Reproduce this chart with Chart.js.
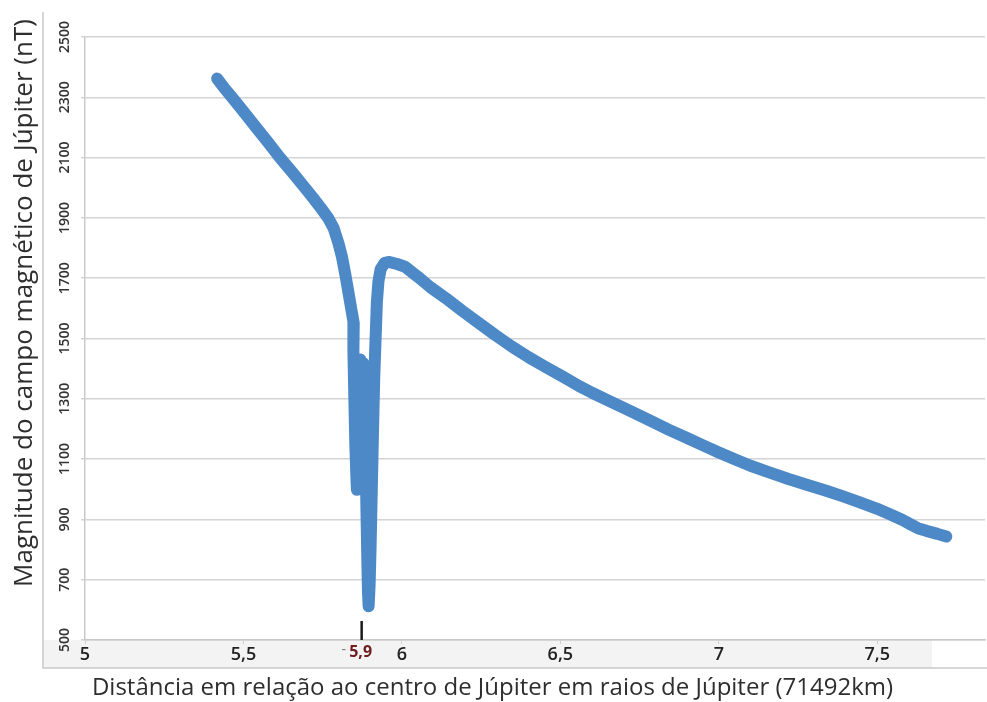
<!DOCTYPE html>
<html>
<head>
<meta charset="utf-8">
<script src="https://cdn.jsdelivr.net/npm/chart.js@4.4.1/dist/chart.umd.min.js"></script>
<style>
  body { margin: 0; background: #ffffff; }
  #myChart { display: block; }
</style>
</head>
<body>
<canvas id="myChart" width="987" height="702"></canvas>
<script>
// distance from Jupiter centre (Rj) and field magnitude (nT)
const distRj = [
  5.417, 5.44, 5.464, 5.50, 5.54, 5.578, 5.615, 5.655, 5.69, 5.72,
  5.742, 5.767, 5.785, 5.80, 5.811, 5.821, 5.830, 5.839, 5.848, 5.847,
  5.849, 5.851, 5.853, 5.856, 5.858, 5.861, 5.863, 5.866, 5.869, 5.872,
  5.874, 5.876, 5.878, 5.882, 5.885, 5.887, 5.889, 5.891, 5.893, 5.895,
  5.898, 5.901, 5.904, 5.907, 5.910, 5.913, 5.917, 5.921, 5.926, 5.933,
  5.945, 5.958, 5.985, 6.01, 6.026, 6.05, 6.09, 6.138, 6.19, 6.242,
  6.295, 6.346, 6.40, 6.454, 6.51, 6.558, 6.60, 6.65, 6.70, 6.738,
  6.79, 6.843, 6.90, 6.947, 7.00, 7.054, 7.10, 7.159, 7.22, 7.28,
  7.339, 7.39, 7.443, 7.50, 7.547, 7.58, 7.601, 7.63, 7.655, 7.69,
  7.718
];
const fieldNt = [
  2362, 2330, 2300, 2253, 2200, 2150, 2100, 2050, 2005, 1966,
  1936, 1900, 1865, 1815, 1770, 1715, 1661, 1605, 1551, 1460,
  1350, 1250, 1150, 1050, 998, 1100, 1250, 1350, 1430, 1380,
  1250, 1350, 1419, 1330, 1150, 1000, 880, 760, 660, 612,
  680, 800, 950, 1100, 1250, 1380, 1500, 1620, 1690, 1730,
  1750, 1754, 1747, 1738, 1725, 1705, 1670, 1634, 1592, 1552,
  1511, 1474, 1438, 1405, 1372, 1343, 1320, 1295, 1270, 1251,
  1224, 1197, 1170, 1147, 1122, 1098, 1078, 1056, 1034, 1014,
  995, 977, 957, 935, 914, 898, 886, 870, 862, 852,
  843
];

const xTickValues = [5, 5.5, 6, 6.5, 7, 7.5];
const markerX = 5.873;
const markerText = '5,9';

const yTitle = 'Magnitude do campo magnético de Júpiter (nT)';
const xTitle = 'Distância em relação ao centro de Júpiter em raios de Júpiter (71492km)';

const points = distRj.map((d, i) => ({ x: d, y: fieldNt[i] }));

// band under the x labels, outer frame, rotated y labels, y title, ~5,9 mark
const decorations = {
  id: 'decorations',
  beforeDraw: (chart) => {
    const ctx = chart.ctx;
    const area = chart.chartArea;
    ctx.save();
    ctx.fillStyle = '#f3f3f3';
    ctx.fillRect(43, area.bottom, 889, 668 - area.bottom);
    ctx.strokeStyle = '#c9c9c9';
    ctx.lineWidth = 1.5;
    ctx.beginPath();
    ctx.moveTo(43, 12);
    ctx.lineTo(43, 668);
    ctx.lineTo(987, 668);
    ctx.stroke();
    ctx.restore();
  },
  afterDraw: (chart) => {
    const ctx = chart.ctx;
    const yScale = chart.scales.y;
    const xScale = chart.scales.x;
    const area = chart.chartArea;
    ctx.save();

    ctx.fillStyle = '#333333';
    ctx.font = '600 14px "Open Sans"';
    ctx.textAlign = 'center';
    ctx.textBaseline = 'middle';
    yScale.ticks.forEach((t) => {
      const py = yScale.getPixelForValue(t.value);
      ctx.save();
      ctx.translate(65, py);
      ctx.rotate(-Math.PI / 2);
      ctx.fillText(String(t.value), 0, 0);
      ctx.restore();
    });

    ctx.save();
    ctx.fillStyle = '#2e2e2e';
    ctx.font = '26px "Open Sans"';
    ctx.translate(25, 303);
    ctx.rotate(-Math.PI / 2);
    ctx.fillText(yTitle, 0, 0);
    ctx.restore();

    const mx = xScale.getPixelForValue(markerX);
    ctx.strokeStyle = '#1a1a1a';
    ctx.lineWidth = 2.5;
    ctx.beginPath();
    ctx.moveTo(mx, area.bottom - 19);
    ctx.lineTo(mx, area.bottom);
    ctx.stroke();

    ctx.font = 'bold 16px "Open Sans"';
    ctx.fillStyle = '#6e1c1c';
    ctx.fillText(markerText, mx - 1, 652);
    ctx.fillStyle = '#777777';
    ctx.font = '14px "Open Sans"';
    ctx.fillText('-', mx - 18, 650);

    ctx.restore();
  }
};

const ctx = document.getElementById('myChart').getContext('2d');
const myChart = new Chart(ctx, {
  type: 'scatter',
  data: {
    datasets: [
      {
        data: points,
        showLine: true,
        borderColor: '#4d89c7',
        backgroundColor: '#4d89c7',
        borderWidth: 12,
        borderJoinStyle: 'round',
        borderCapStyle: 'round',
        pointRadius: 0,
        tension: 0,
      },
    ],
  },
  options: {
    responsive: false,
    animation: false,
    devicePixelRatio: 1,
    layout: { padding: { left: 0, right: 2, top: 37, bottom: 0 } },
    plugins: {
      legend: { display: false },
      tooltip: { enabled: false },
      title: {
        display: true,
        position: 'bottom',
        text: xTitle,
        color: '#2e2e2e',
        font: { family: 'Open Sans', size: 24, weight: 'normal', lineHeight: 1.15 },
        padding: { top: 0, bottom: 0 },
      },
    },
    scales: {
      x: {
        type: 'linear',
        min: 5,
        max: 7.84,
        afterBuildTicks: (scale) => {
          scale.ticks = xTickValues.map((v) => ({ value: v }));
        },
        afterFit: (scale) => {
          scale.height = 34.4;
        },
        grid: { drawOnChartArea: false, tickLength: 4, color: '#d0d0d0' },
        border: { color: '#c9c9c9', width: 1.5 },
        ticks: {
          color: '#222222',
          padding: 0,
          font: { family: 'Open Sans', size: 18, weight: '600' },
          callback: (v) => String(v).replace('.', ','),
        },
      },
      y: {
        min: 500,
        max: 2500,
        afterFit: (scale) => {
          scale.width = 85;
        },
        grid: { color: '#d4d4d4', lineWidth: 1.5, tickLength: 4 },
        border: { color: '#c9c9c9', width: 1.5 },
        ticks: { stepSize: 200, display: false },
      },
    },
  },
  plugins: [decorations],
});
</script>
</body>
</html>
